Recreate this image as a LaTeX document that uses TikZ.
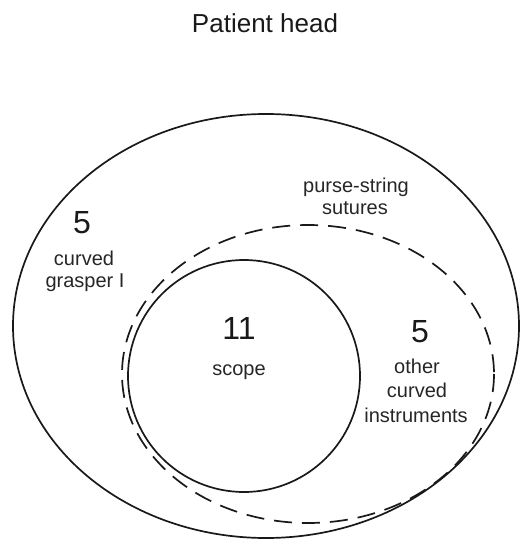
\documentclass[tikz,border=0pt]{standalone}
\usepackage{fontspec}
\setmainfont{Liberation Sans}
\begin{document}
\begin{tikzpicture}[x=1pt,y=-1pt,
  line/.style={line width=1.7pt,black!90},
  dashline/.style={line width=1.7pt,black!90,dash pattern=on 18pt off 10pt},
  lbl/.style={font=\fontsize{20}{22}\selectfont,anchor=base,inner sep=0pt,text=black!85},
  num/.style={font=\fontsize{32}{36}\selectfont,anchor=center,inner sep=0pt,text=black!90},
  ttl/.style={font=\fontsize{26}{30}\selectfont,anchor=center,inner sep=0pt,text=black!90}]
\useasboundingbox (0,0) rectangle (521,540);
\draw[line] (266,326) ellipse [x radius=253, y radius=212];
\draw[dashline] (308,374) ellipse [x radius=186, y radius=149];
\draw[line] (244,376) circle [radius=116];
\node[ttl] (title) at (265,23) {Patient head};
\node[num] (n1) at (82,223) {5};
\node[lbl] (g1) at (84,265) {curved};
\node[lbl] (g2) at (85,287) {grasper I};
\node[lbl] (p1) at (356,192) {purse-string};
\node[lbl] (p2) at (355,214) {sutures};
\node[num] (n2) at (239,328) {11};
\node[lbl] (s1) at (239,375) {scope};
\node[num] (n3) at (420,332) {5};
\node[lbl] (o1) at (417,373) {other};
\node[lbl] (o2) at (417,397) {curved};
\node[lbl] (o3) at (416,422) {instruments};
\end{tikzpicture}
\end{document}
